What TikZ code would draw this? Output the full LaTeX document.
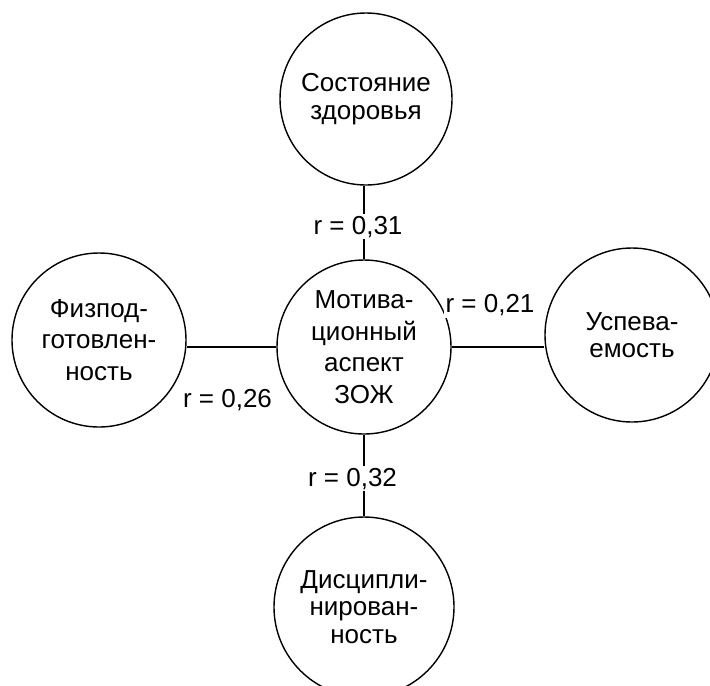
\documentclass[tikz,border=0pt]{standalone}
\usepackage{fontspec}
\setmainfont{Liberation Sans}
\usepackage{tikz}
\usetikzlibrary{calc}
\tikzset{factor/.style={draw, circle, line width=0.8pt, minimum size=3.48cm, inner sep=0pt, align=center, font=\fontsize{14.8}{15.5}\selectfont}}
\tikzset{coef/.style={fill=white, inner sep=1pt, font=\fontsize{14.8}{15.5}\selectfont}}
\tikzset{link/.style={line width=0.8pt}}

\begin{document}
\begin{tikzpicture}[node distance=5.2cm]
\useasboundingbox (0,0) rectangle (14.2,-13.7);
\node [factor, font=\fontsize{14.8}{18}\selectfont] (motiv) at (7.28,-6.94) {Мотива-\\ционный\\аспект\\ЗОЖ};
\node [factor, minimum size=3.44cm] (health) [above of=motiv, yshift=-0.24cm, xshift=0.04cm] {Состояние\\здоровья};
\node [factor, minimum size=3.6cm] (discip) [below of=motiv] {Дисципли-\\нирован-\\ность};
\node [factor, font=\fontsize{14.8}{18}\selectfont] (phys) [left of=motiv, xshift=-0.1cm, yshift=0.14cm] {Физпод-\\готовлен-\\ность};
\node [factor] (progress) [right of=motiv, xshift=0.16cm, yshift=0.24cm] {Успева-\\емость};
%Edge
\path[link] (motiv.north) edge node [coef, pos=0.44, xshift=-0.12cm] (r31) {r = 0,31} (motiv.north |- health.south);
\path[link] (motiv.south) edge node [coef, pos=0.54, xshift=-0.23cm] (r32) {r = 0,32} (motiv.south |- discip.north);
\path[link] (motiv.west) edge node [coef, yshift=-1.06cm, xshift=-0.08cm] (r26) {r = 0,26} (motiv.west -| phys.east);
\path[link] (motiv.east) edge node [coef, yshift=0.84cm, xshift=-0.16cm] (r21) {r = 0,21} (motiv.east -| progress.west);
\end{tikzpicture}
\end{document}
